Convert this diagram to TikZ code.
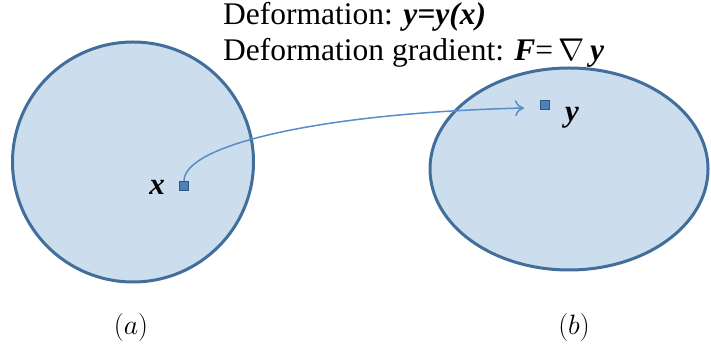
\RequirePackage{fix-cm}
\documentclass[tikz,border=0pt]{standalone}
\usepackage{fontspec}
\setmainfont{Liberation Serif}
\usetikzlibrary{arrows.meta}
\definecolor{bodyfill}{RGB}{204,221,237}
\definecolor{bodyline}{RGB}{65,110,155}
\definecolor{arrowblue}{RGB}{90,140,200}
\definecolor{ptfill}{RGB}{79,129,189}
\definecolor{ptline}{RGB}{50,85,130}
\tikzset{
  body/.style={fill=bodyfill, draw=bodyline, line width=3pt},
  pt/.style={rectangle, minimum size=9pt, inner sep=0pt, fill=ptfill, draw=ptline, line width=1.2pt},
  headtxt/.style={anchor=base west, inner sep=0pt, font=\rmfamily\fontsize{31.5}{36}\selectfont},
  vlabel/.style={inner sep=0pt, font=\rmfamily\fontsize{31}{36}\selectfont\bfseries\itshape},
  caplabel/.style={inner sep=0pt, font=\fontsize{28}{34}\selectfont},
  flow/.style={draw=arrowblue, line width=1.5pt, -{To[length=9pt,width=16pt]}}
}
\begin{document}
\begin{tikzpicture}[x=1pt,y=-1pt]
\useasboundingbox (0,0) rectangle (711,352);
\path[body] (133,162) ellipse [x radius=120.5, y radius=120];
\path[body] (569,169) ellipse [x radius=139, y radius=101];
\node[pt] (px) at (184,186) {};
\node[pt] (py) at (545,105) {};
\node[vlabel] (lx) at (157,187) {x};
\node[vlabel] (ly) at (572,118) {y};
\coordinate (tip) at (524,108);
\draw[flow] (px.north) .. controls (184,145) and (320,113) .. (tip);
\node[headtxt] (t1) at (223,25) {Deformation: \textbf{\textit{y=y(x)}}};
\node[headtxt] (t2) at (223,61) {Deformation gradient: \textbf{\textit{F}}=\,$\nabla$\,\textbf{\textit{y}}};
\node[caplabel] (ca) at (131,327) {$(a)$};
\node[caplabel] (cb) at (574,327) {$(b)$};
\end{tikzpicture}
\end{document}
